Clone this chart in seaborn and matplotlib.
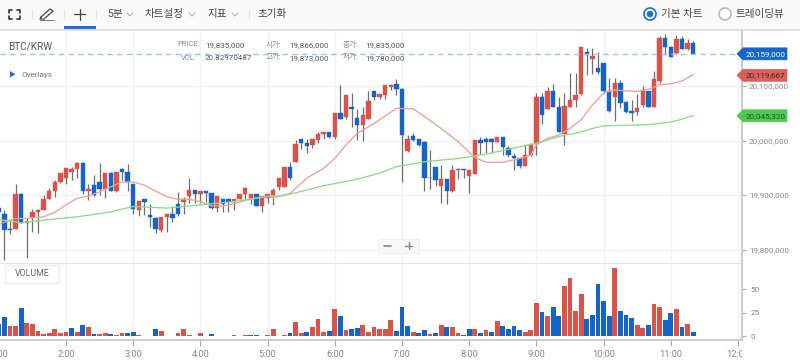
import numpy as np
import pandas as pd
import matplotlib
matplotlib.use("Agg")
import matplotlib.pyplot as plt
import seaborn as sns
from matplotlib.patches import Polygon, Rectangle, Circle
from matplotlib.transforms import Bbox
from matplotlib.ticker import FuncFormatter

# candle values in thousands of KRW, one candle every 5 minutes from 1:00
opens = [19877,19866,19837,19838,19901,19849,19859,19869,19873,19893,19907,19923,19931,19943,19948,19959,19907,19918,19923,19911,
         19940,19907,19948,19943,19921,19872,19892,19863,19857,19835,19860,19866,19884,19888,19898,19909,19902,19907,19904,19877,
         19892,19892,19888,19893,19902,19892,19901,19880,19895,19900,19915,19915,19951,19961,20002,19995,19992,20001,20012,20015,
         20007,20051,20044,20062,20041,20029,20040,20090,20080,20084,20098,20103,20094,19980,20009,20002,19998,19932,19951,19917,
         19929,19907,19945,19948,19934,19939,20001,20002,20002,19997,20006,19986,19972,19967,19953,19974,19994,20080,20058,20091,
         20061,20012,20062,20074,20085,20162,20150,20133,20142,20091,20080,20106,20071,20054,20052,20065,20091,20062,20109,20189,
         20171,20160,20186,20168,20178]
closes = [19868,19835,19836,19901,19848,19852,19868,19873,19892,19907,19923,19940,19949,19947,19959,19907,19911,19900,19911,19940,
          19907,19942,19943,19923,19874,19889,19887,19860,19837,19859,19866,19857,19865,19892,19909,19902,19907,19903,19876,19898,
          19884,19887,19893,19901,19913,19901,19880,19898,19901,19909,19931,19951,19931,19994,19995,19990,20002,20012,20015,20006,
          20051,20040,20084,20057,20029,20047,20073,20080,20085,20101,20102,20095,20010,20002,20001,19991,19931,19931,19927,19929,
          19907,19946,19948,19945,19945,20001,19995,19998,19998,20006,19988,19974,19968,19953,19973,19993,20080,20046,20091,20062,
          20016,20063,20074,20084,20171,20156,20155,20126,20091,20055,20106,20069,20053,20050,20060,20092,20062,20112,20189,20171,
          20153,20186,20168,20178,20159]
highs = [19880,19873,19855,19921,19904,19857,19874,19874,19900,19912,19928,19940,19949,19951,19960,19960,19920,19936,19958,19940,
         19943,19943,19949,19956,19921,19889,19892,19883,19859,19859,19866,19879,19905,19897,19931,19909,19907,19907,19904,19898,
         19892,19894,19893,19902,19914,19901,19902,19898,19901,19912,19931,19951,19961,20001,20002,20002,20002,20016,20016,20016,
         20051,20101,20084,20088,20057,20062,20090,20090,20085,20101,20104,20112,20096,20011,20013,20002,19999,19983,19951,19955,
         19929,19955,19949,19948,19948,20001,20007,20007,20005,20006,20006,19989,19977,19967,19992,19993,20088,20087,20099,20103,
         20080,20087,20123,20123,20171,20169,20170,20162,20142,20114,20114,20111,20073,20074,20085,20100,20091,20128,20192,20196,
         20173,20193,20192,20186,20183]
lows = [19863,19780,19828,19837,19848,19784,19832,19830,19872,19892,19897,19922,19921,19928,19932,19902,19890,19899,19900,19894,
        19907,19906,19928,19907,19865,19862,19863,19842,19831,19833,19833,19851,19861,19865,19886,19885,19886,19888,19875,19869,
        19869,19868,19873,19892,19893,19884,19880,19869,19885,19882,19910,19914,19927,19960,19985,19977,19986,19996,20002,20004,
        20002,20039,20040,20024,20001,20000,20040,20074,20076,20077,20093,20084,19923,19979,20000,19989,19908,19911,19917,19885,
        19883,19906,19929,19932,19904,19938,19975,19977,19977,19997,19973,19969,19945,19949,19953,19972,19973,20030,20057,20062,
        20016,19992,20062,20061,20084,20121,20122,20122,20088,20053,20035,20059,20051,20035,20047,20062,20061,20062,20105,20157,
        20153,20159,20168,20166,20158]

volumes = [13.5,20.8,11,11,29.8,14.2,13.5,5.7,2.1,3.2,7.5,3.9,5,
           9.2,5,12.4,10,2.5,2.1,3.9,2.8,1.8,3.2,3.9,5,
           1.8,.7,.7,7.5,5.7,.7,.7,3.2,7.5,1.8,.3,3.9,
           .7,2.1,.7,.7,.7,1.8,.7,1.8,1.8,1.8,.7,1.8,
           7.5,.7,1.8,3.9,15.3,3.2,5,10,18.8,5,5.7,29,
           22,6.4,7.5,9.2,12.4,5,10,8.2,7.5,17.8,5.7,31.6,
           11,5,3.9,6.4,2.1,3.9,12.4,10,10,3.9,1.8,8.2,
           8.2,3.9,6.4,5,16,11,8.2,11,6.4,5,6.4,35,
           26.3,22,31.6,22,53,62.5,27.3,44.7,18.5,23,55.7,37.6,
           22,73,27.3,23,20,12.4,9.2,11.7,34.4,31.6,17,24.9,
           29,10,13.5,5]
vol_side = list("bbrrbrrrrrrrr" "brbrbrrbrrbb" "rbbbrrbrrrbr" "bbrbrrrrbbrr"
                "rrrbrrbrrrbr" "brbbrrrrrrbb" "brbbrbrbrrbb" "rbrbrbbbbrrr"
                "brbbrrrrbbbb" "brbbbrrbrrbb" "rbrb")

# moving averages (candle number, thousands of KRW)
ma_red_idx = [0,2,3,5,8,10,12,14,16,18,20,22,24,26,28,30,32,34,36,38,40,42,44,46,48,
              50,52,55,58,60,62,64,66,68,71,74,76,79,82,85,87,90,93,95,
              96,98,100,102,104,106,108,110,112,114,116,118,120,122,124]
ma_red = [19846,19854,19857,19857,19860,19868,19882,19894,19898,19906,19915,19924,19924,19918,19907,19897,19892,19892,19888,19880,19880,19884,19890,19894,19897,
          19898,19903,19931,19949,19967,19992,20013,20025,20038,20059,20058,20044,20022,19998,19969,19960,19960,19967,19973,
          19992,20004,20010,20022,20038,20065,20087,20093,20091,20090,20094,20102,20104,20109,20121]
ma_green_idx = [0,4,8,14,20,24,30,36,42,48,49,53,58,64,68,71,76,82,87,92,96,98,101,103,106,108,112,116,120,122,124]
ma_green = [19855,19849,19854,19860,19869,19879,19876,19882,19888,19898,19895,19904,19917,19929,19940,19952,19961,19967,19975,19986,
            19995,20001,20010,20013,20022,20027,20028,20029,20034,20039,20046]

price_ticks = [19800000, 19900000, 20000000, 20100000]
vol_ticks = [0, 25, 50]
hour_ticks = [120, 180, 240, 300, 360, 420, 480, 540, 600, 660, 720]
hour_labels = ["2:00", "3:00", "4:00", "5:00", "6:00", "7:00", "8:00", "9:00", "10:00", "11:00", "12:00"]
tag_prices = [20159000, 20119667, 20045320]
tag_labels = ["20,159,000", "20,119,667", "20,045,320"]
tag_colors = ["#1565c8", "#dc6058", "#4fc94f"]
tag_text = ["white", "#3a2a2a", "#2c4a2c"]

RED = "#d9534a"
BLUE = "#1565c8"

sns.set_theme(style="white")
plt.rcParams['font.family'] = ['Roboto', 'Noto Sans CJK KR', 'DejaVu Sans']

df = pd.DataFrame({"t": 60 + 5 * np.arange(len(opens)),
                   "open": np.array(opens) * 1000, "close": np.array(closes) * 1000,
                   "high": np.array(highs) * 1000, "low": np.array(lows) * 1000,
                   "vol": volumes, "side": vol_side})

W, H = 800, 363
fig = plt.figure(figsize=(W / 100, H / 100), dpi=100)
ax = fig.add_axes([0, 1 - 264 / H, 742 / W, (264 - 29) / H])
ax2 = fig.add_axes([0, 1 - 340 / H, 742 / W, (340 - 264) / H])

# price pane
ax.set_xlim(61.07, 723.6)
ax.set_ylim(19773400, 20204600)
ax.set_xticks(hour_ticks)
ax.set_yticks(price_ticks)
ax.grid(True, color="#f2f2f2", lw=1)
ax.set_axisbelow(True)

up = df["close"] >= df["open"]
body_colors = np.where(up, RED, BLUE)
ax.vlines(df["t"], df["low"], df["high"], color="#555555", lw=0.9, alpha=0.85, zorder=2)
ax.bar(df["t"], (df["close"] - df["open"]).abs(), bottom=df[["open", "close"]].min(axis=1),
       width=3.9, color=body_colors, edgecolor=body_colors, linewidth=0.3, zorder=3)

sns.lineplot(x=60 + 5 * np.array(ma_red_idx), y=np.array(ma_red) * 1000, ax=ax, color="#ee9f98", lw=0.95, zorder=4)
sns.lineplot(x=60 + 5 * np.array(ma_green_idx), y=np.array(ma_green) * 1000, ax=ax, color="#8adc8a", lw=0.95, zorder=4)
ax.axhline(tag_prices[0], color="#9fc2ee", lw=1, ls=(0, (4, 3)), zorder=5)

ax.yaxis.tick_right()
ax.yaxis.set_major_formatter(FuncFormatter(lambda v, p: f"{int(v):,}"))
ax.tick_params(axis="y", labelsize=5.9, labelcolor="#888888", color="#aaaaaa", length=3, pad=2, width=0.8, left=False, right=True)
ax.tick_params(axis="x", bottom=False, labelbottom=False)
for s in ax.spines.values():
    s.set_visible(False)
ax.spines["right"].set_visible(True)
ax.spines["right"].set_color("#cccccc")
ax.spines["right"].set_linewidth(1.5)
ax.spines["bottom"].set_visible(True)
ax.spines["bottom"].set_color("#dddddd")
ax.spines["bottom"].set_linewidth(1.2)

# volume pane
sns.barplot(data=df, x="t", y="vol", hue="side", palette={"r": RED, "b": BLUE}, dodge=False,
            native_scale=True, width=0.84, saturation=1, errorbar=None, legend=False, ax=ax2, linewidth=0, zorder=3)
ax2.set_xlim(61.07, 723.6)
ax2.set_ylim(-3.9, 76.9)
ax2.set_xticks(hour_ticks)
ax2.set_xticklabels(hour_labels)
ax2.set_yticks(vol_ticks)
ax2.set_xlabel("")
ax2.set_ylabel("")
ax2.grid(True, axis="x", color="#f2f2f2", lw=1)
ax2.set_axisbelow(True)
ax2.yaxis.tick_right()
ax2.tick_params(axis="y", labelsize=5.9, labelcolor="#888888", color="#aaaaaa", length=3, pad=3, width=0.8, left=False, right=True)
ax2.tick_params(axis="x", labelsize=6.7, labelcolor="#888888", color="#aaaaaa", length=4, pad=3, width=0.8, bottom=True)
for s in ax2.spines.values():
    s.set_visible(False)
for side in ["right", "bottom"]:
    ax2.spines[side].set_visible(True)
    ax2.spines[side].set_color("#cccccc")
    ax2.spines[side].set_linewidth(1.5)

# 12:00 is cut off where the pane ends
fig.canvas.draw()
for lab in ax2.get_xticklabels():
    if lab.get_text() == "12:00":
        lab.set_clip_box(Bbox([[0, 0], [742, H]]))
        lab.set_clip_on(True)
ax2.text(60, -15, "1:00", fontsize=6.7, color="#888888", ha="center", va="top", clip_on=False)

# toolbar, buttons and labels are drawn in pixel coordinates on top
ov = fig.add_axes([0, 0, 1, 1], zorder=10)
ov.set_xlim(0, W)
ov.set_ylim(H, 0)
ov.axis("off")
ov.patch.set_alpha(0)

ov.add_patch(Rectangle((0, 0), W, 29, color="#fafafa", lw=0))
ov.plot([0, W], [29.5, 29.5], color="#dddddd", lw=1.3)
ov.add_patch(Rectangle((64, 26.3), 32, 2.6, color="#1a6fd8", lw=0))
for x in [32, 64, 96, 249]:
    ov.plot([x, x], [10, 19], color="#e4e4e4", lw=0.8)

# fullscreen icon
for (x, y, dx, dy) in [(9, 10, 1, 1), (20, 10, -1, 1), (9, 19, 1, -1), (20, 19, -1, -1)]:
    ov.plot([x + 3 * dx, x, x], [y, y, y + 3 * dy], color="#333333", lw=1.2)
# pencil icon
ov.plot([41, 50, 53, 44, 40, 41], [17, 9, 11, 19, 19, 17], color="#444444", lw=0.9)
ov.plot([40, 54], [20, 20], color="#777777", lw=0.7)
# crosshair
ov.plot([74, 85], [14, 14], color="#444444", lw=0.9)
ov.plot([79.5, 79.5], [9, 19.5], color="#444444", lw=0.9)

for x, s in [(107, "5분"), (145, "차트설정"), (208, "지표"), (258, "초기화")]:
    ov.text(x, 14, s, fontsize=7.6, color="#444444", ha="left", va="center")
for x in [127, 189, 232]:
    ov.plot([x, x + 3, x + 6], [13, 16, 13], color="#aaaaaa", lw=0.7)

ov.add_patch(Circle((650, 14), 6, fc="white", ec="#1a6fd8", lw=1.2))
ov.add_patch(Circle((650, 14), 3.3, fc="#1a6fd8", lw=0))
ov.text(661, 13.5, "기본 차트", fontsize=7.6, color="#444444", ha="left", va="center")
ov.add_patch(Circle((725, 14), 6, fc="white", ec="#bbbbbb", lw=1.2))
ov.text(736, 13.5, "트레이딩뷰", fontsize=7.6, color="#444444", ha="left", va="center")

ov.text(8, 46, "BTC/KRW", fontsize=7.2, color="#555555", ha="left", va="center")
ov.add_patch(Polygon([(10, 71), (10, 77.5), (15.5, 74.2)], color="#1a6fd8", lw=0))
ov.text(21, 74.5, "Overlays", fontsize=5.9, color="#777777", ha="left", va="center")

header = [(200, 205, 45, "PRICE:", "19,835,000"), (197, 205, 58, "VOL:", "20.82970487"),
          (281, 289, 45, "시가:", "19,866,000"), (281, 289, 58, "고가:", "19,873,000"),
          (358, 365, 45, "종가:", "19,835,000"), (358, 365, 58, "저가:", "19,780,000")]
for xl, xv, y, name, val in header:
    ov.text(xl, y, name, fontsize=5.4, color="#888888", ha="right", va="center")
    ov.text(xv, y, val, fontsize=5.8, color="#555555", ha="left", va="center")

# price tags follow the price scale
to_px = lambda p: H - ax.transData.transform((100, p))[1]
for p, lab, c, tc in zip(tag_prices, tag_labels, tag_colors, tag_text):
    y = to_px(p)
    ov.add_patch(Polygon([(737, y), (743, y - 6), (787, y - 6), (787, y + 6), (743, y + 6)], fc=c, ec=c, lw=0.5, zorder=6))
    ov.text(745.5, y, lab, fontsize=5.9, color=tc, ha="left", va="center", zorder=7)

# zoom buttons
ov.add_patch(Rectangle((378, 239), 41, 14, fc="#f8f8f8", ec="#f0f0f0", lw=0.8))
ov.plot([384, 391], [245.5, 245.5], color="#888888", lw=1.2)
ov.plot([405, 412], [245.5, 245.5], color="#888888", lw=1)
ov.plot([408.5, 408.5], [242, 249], color="#888888", lw=1)

# volume label
ov.add_patch(Rectangle((5, 265), 54, 18, fc="white", ec="#ececec", lw=0.8))
ov.text(32, 274, "VOLUME", fontsize=6.3, color="#666666", ha="center", va="center")

fig.savefig("out.png", dpi=100)
